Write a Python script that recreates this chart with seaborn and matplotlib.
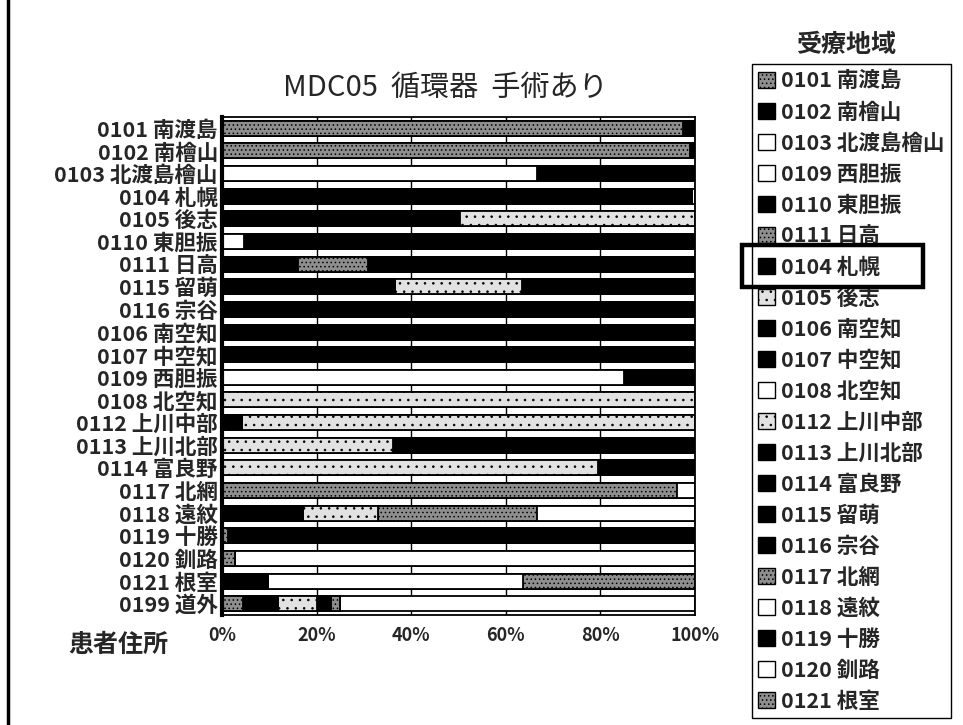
import numpy as np
import matplotlib
matplotlib.use("Agg")
import matplotlib.pyplot as plt
import seaborn as sns
from matplotlib.patches import Patch, Rectangle

# Patient residence (rows, top to bottom)
ROWS = [
    "0101 南渡島", "0102 南檜山", "0103 北渡島檜山", "0104 札幌", "0105 後志",
    "0110 東胆振", "0111 日高", "0115 留萌", "0116 宗谷", "0106 南空知",
    "0107 中空知", "0109 西胆振", "0108 北空知", "0112 上川中部", "0113 上川北部",
    "0114 富良野", "0117 北網", "0118 遠紋", "0119 十勝", "0120 釧路",
    "0121 根室", "0199 道外",
]

# Treatment region (stack / legend order)
SERIES = [
    "0101 南渡島", "0102 南檜山", "0103 北渡島檜山", "0109 西胆振", "0110 東胆振",
    "0111 日高", "0104 札幌", "0105 後志", "0106 南空知", "0107 中空知",
    "0108 北空知", "0112 上川中部", "0113 上川北部", "0114 富良野", "0115 留萌",
    "0116 宗谷", "0117 北網", "0118 遠紋", "0119 十勝", "0120 釧路",
    "0121 根室", "0199 道外",
]

# Share (%) of each treatment region, one value per residence row
s_0101 = [97.5, 99.0, 0, 0, 0, 0, 0, 0, 0, 0, 0, 0, 0, 0, 0, 0, 0, 0, 0, 0, 0, 4.5]
s_0102 = [0, 1.0, 0, 0, 0, 0, 0, 0, 0, 0, 0, 0, 0, 0, 0, 0, 0, 0, 0, 0, 0, 0]
s_0103 = [0, 0, 66.6, 0, 0, 0, 0, 0, 0, 0, 0, 0, 0, 0, 0, 0, 0, 0, 0, 0, 0, 0]
s_0109 = [0, 0, 0, 0, 0, 4.6, 0, 0, 0, 0, 0, 85.0, 0, 0, 0, 0, 0, 0, 0, 0, 0, 0]
s_0110 = [0, 0, 0, 0, 0, 80.4, 16.1, 0, 0, 0, 0, 5.0, 0, 0, 0, 0, 0, 0, 0, 0, 0, 0]
s_0111 = [0, 0, 0, 0, 0, 0, 14.8, 0, 0, 0, 0, 0, 0, 0, 0, 0, 0, 0, 0, 0, 0, 0]
s_0104 = [2.5, 0, 33.4, 99.3, 50.3, 15.0, 69.1, 36.6, 6.0, 35.0, 25.0, 10.0, 0, 4.2, 0, 0, 0, 17.2, 0, 0, 9.8, 7.3]
s_0105 = [0, 0, 0, 0, 49.7, 0, 0, 0, 0, 0, 0, 0, 0, 0, 0, 0, 0, 0, 0, 0, 0, 0]
s_0106 = [0, 0, 0, 0, 0, 0, 0, 0, 0, 65.0, 0, 0, 0, 0, 0, 0, 0, 0, 0, 0, 0, 0]
s_0107 = [0, 0, 0, 0, 0, 0, 0, 0, 0, 0, 75.0, 0, 0, 0, 0, 0, 0, 0, 0, 0, 0, 0]
s_0108 = [0, 0, 0, 0, 0, 0, 0, 0, 0, 0, 0, 0, 0, 0, 0, 0, 0, 0, 0, 0, 0, 0]
s_0112 = [0, 0, 0, 0, 0, 0, 0, 26.8, 0, 0, 0, 0, 100.0, 95.8, 36.2, 79.5, 0, 15.8, 0, 0, 0, 8.2]
s_0113 = [0, 0, 0, 0, 0, 0, 0, 0, 8.0, 0, 0, 0, 0, 0, 63.8, 0, 0, 0, 0, 0, 0, 3.0]
s_0114 = [0, 0, 0, 0, 0, 0, 0, 0, 0, 0, 0, 0, 0, 0, 0, 20.5, 0, 0, 0, 0, 0, 0]
s_0115 = [0, 0, 0, 0, 0, 0, 0, 36.6, 0, 0, 0, 0, 0, 0, 0, 0, 0, 0, 0, 0, 0, 0]
s_0116 = [0, 0, 0, 0, 0, 0, 0, 0, 86.0, 0, 0, 0, 0, 0, 0, 0, 0, 0, 0, 0, 0, 0]
s_0117 = [0, 0, 0, 0, 0, 0, 0, 0, 0, 0, 0, 0, 0, 0, 0, 0, 96.2, 33.6, 1.2, 2.8, 0, 2.0]
s_0118 = [0, 0, 0, 0, 0, 0, 0, 0, 0, 0, 0, 0, 0, 0, 0, 0, 3.8, 33.4, 0, 0, 0, 0]
s_0119 = [0, 0, 0, 0, 0, 0, 0, 0, 0, 0, 0, 0, 0, 0, 0, 0, 0, 0, 98.8, 0, 0, 0]
s_0120 = [0, 0, 0, 0, 0, 0, 0, 0, 0, 0, 0, 0, 0, 0, 0, 0, 0, 0, 0, 97.2, 53.9, 0]
s_0121 = [0, 0, 0, 0, 0, 0, 0, 0, 0, 0, 0, 0, 0, 0, 0, 0, 0, 0, 0, 0, 36.3, 0]
s_0199 = [0, 0, 0, 0.7, 0, 0, 0, 0, 0, 0, 0, 0, 0, 0, 0, 0, 0, 0, 0, 0, 0, 75.0]

SERIES_VALUES = [
    s_0101, s_0102, s_0103, s_0109, s_0110, s_0111, s_0104, s_0105, s_0106, s_0107,
    s_0108, s_0112, s_0113, s_0114, s_0115, s_0116, s_0117, s_0118, s_0119, s_0120,
    s_0121, s_0199,
]

SERIES_FILL = [
    "dark", "black", "white", "white", "black", "dark", "black", "light", "black", "black",
    "white", "light", "black", "black", "black", "black", "dark", "white", "black", "white",
    "dark", "white",
]

# Entries listed in the legend box (the box runs on past the page edge)
LEGEND_COUNT = 21

TICKS = [0, 20, 40, 60, 80, 100]
TICK_LABELS = ["0%", "20%", "40%", "60%", "80%", "100%"]

FILL_STYLE = {
    "black": ("black", None),
    "white": ("white", None),
    "dark": ("#8e8e8e", "...."),
    "light": ("#e2e2e2", ".."),
}

sns.set_style("white")
plt.rcParams["font.family"] = ["Noto Sans CJK JP", "DejaVu Sans"]
plt.rcParams["hatch.linewidth"] = 0.6

W, H = 963, 725
fig = plt.figure(figsize=(W / 100, H / 100), dpi=100)
ax = fig.add_axes([222 / W, 1 - 615 / H, 473 / W, 498 / H])

# Stacked bars: draw running totals from the last series back to the first,
# so each earlier series covers the start of the later ones.
cum = np.cumsum(np.array(SERIES_VALUES, dtype=float), axis=0)
for i in range(len(SERIES) - 1, -1, -1):
    face, hatch = FILL_STYLE[SERIES_FILL[i]]
    sns.barplot(
        x=cum[i], y=ROWS, order=ROWS, orient="y", ax=ax,
        color=face, saturation=1, errorbar=None, width=0.66,
        edgecolor="black", linewidth=1.3, hatch=hatch,
    )

ax.set_xlim(0, 100)
ax.set_xticks(TICKS)
ax.set_xticklabels(TICK_LABELS, fontsize=13, fontweight="bold")
ax.set_xlabel("")
ax.set_ylabel("")
ax.tick_params(axis="y", length=0, pad=3)
ax.tick_params(axis="x", length=0, pad=8)
for lab in ax.get_yticklabels():
    lab.set_fontsize(15.5)
    lab.set_fontweight("bold")

ax.set_axisbelow(True)
ax.grid(axis="x", color="black", linewidth=1.0)
ax.grid(axis="y", visible=False)
for side, sp in ax.spines.items():
    sp.set_color("black")
    sp.set_linewidth(1.3)
ax.spines["left"].set_linewidth(3)

fig.text(445 / W, 1 - 88 / H, "MDC05  循環器  手術あり", ha="center", va="center",
         fontsize=21)
fig.text(118 / W, 1 - 645 / H, "患者住所", ha="center", va="center",
         fontsize=18, fontweight="bold")

# Legend of treatment regions
handles = []
for name, kind in list(zip(SERIES, SERIES_FILL))[:LEGEND_COUNT]:
    face, hatch = FILL_STYLE[kind]
    handles.append(Patch(facecolor=face, edgecolor="black", hatch=hatch,
                         linewidth=1.0, label=name))
leg = fig.legend(
    handles=handles, loc="upper left", bbox_to_anchor=(752 / W, 1 - 64 / H),
    frameon=True, fancybox=False, edgecolor="black", framealpha=1,
    prop={"size": 15.5, "weight": "bold"}, labelspacing=0.465,
    handlelength=0.75, handleheight=0.75, handletextpad=0.3,
    borderpad=0.3, borderaxespad=0,
)
leg.get_frame().set_linewidth(1.0)
fig.text(846 / W, 1 - 45 / H, "受療地域", ha="center", va="center",
         fontsize=18, fontweight="bold")

# Outer frame
fig.add_artist(Rectangle((8 / W, -0.2), 1.2, 1.2 + (1 - 14 / H), transform=fig.transFigure,
                         fill=False, edgecolor="black", linewidth=2.5))

# Highlight box around the Sapporo legend entry
fig.canvas.draw()
renderer = fig.canvas.get_renderer()
lbb = leg.get_window_extent(renderer)
tbb = leg.get_texts()[SERIES.index("0104 札幌")].get_window_extent(renderer)
cy = (tbb.y0 + tbb.y1) / 2
x0 = lbb.x0 - 10
fig.add_artist(Rectangle((x0 / W, (cy - 20) / H), 181 / W, 42 / H,
                         transform=fig.transFigure, fill=False, zorder=20,
                         edgecolor="black", linewidth=3.2))

fig.savefig("out.png", dpi=100, facecolor="white")
